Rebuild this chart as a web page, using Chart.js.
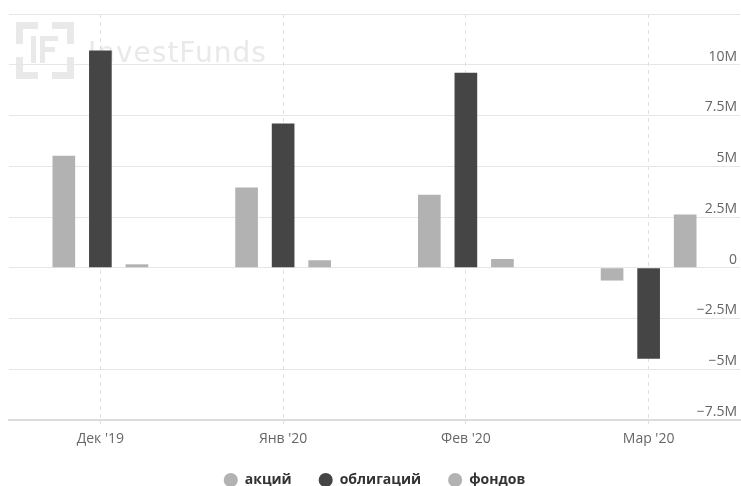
<!DOCTYPE html>
<html lang="ru">
<head>
  <meta charset="UTF-8">
  <title>InvestFunds</title>
  <script src="https://cdn.jsdelivr.net/npm/chart.js"></script>
  <style>
    html, body { margin: 0; padding: 0; background: #fff; }
    #wrap { width: 741px; height: 486px; }
  </style>
</head>
<body>
  <div id="wrap">
    <canvas id="fundsChart" width="741" height="486"></canvas>
  </div>

  <script>
    // данные
    const months = ["Дек '19", "Янв '20", "Фев '20", "Мар '20"];
    const akcii = [5520000, 3950000, 3600000, -630000];
    const obligacii = [10700000, 7100000, 9600000, -4480000];
    const fondov = [170000, 370000, 430000, 2620000];
    const seriesNames = ['акций', 'облигаций', 'фондов'];

    const lightGray = '#b2b2b2';
    const darkGray = '#454545';

    // подпись оси: 10M, 7.5M, 0, −2.5M
    function formatMillions(v) {
      if (v === 0) return '0';
      const m = Math.abs(v) / 1000000;
      return (v < 0 ? '\u2212' : '') + m + 'M';
    }

    // логотип-водяной знак в левом верхнем углу
    const watermark = {
      id: 'watermark',
      beforeDraw(chart) {
        const c = chart.ctx;
        c.save();
        c.fillStyle = '#e9e9e9';
        // уголки рамки
        const x0 = 16, y0 = 22, x1 = 74, y1 = 79, t = 7, arm = 22;
        c.fillRect(x0, y0, arm, t);
        c.fillRect(x0, y0, t, arm);
        c.fillRect(x1 - arm, y0, arm, t);
        c.fillRect(x1 - t, y0, t, arm);
        c.fillRect(x0, y1 - t, arm, t);
        c.fillRect(x0, y1 - arm, t, arm);
        c.fillRect(x1 - arm, y1 - t, arm, t);
        c.fillRect(x1 - t, y1 - arm, t, arm);
        // буквы IF
        c.fillRect(31, 36, 5, 27);
        c.fillRect(40, 36, 5, 27);
        c.fillRect(40, 36, 18, 5);
        c.fillRect(40, 47, 15, 5);
        // название
        c.font = '28px "DejaVu Sans"';
        c.letterSpacing = '1px';
        c.textBaseline = 'alphabetic';
        c.fillText('InvestFunds', 88, 62);
        c.restore();
      }
    };

    const ctx = document.getElementById('fundsChart').getContext('2d');

    new Chart(ctx, {
      type: 'bar',
      data: {
        labels: months,
        datasets: [
          { label: seriesNames[0], data: akcii, backgroundColor: lightGray },
          { label: seriesNames[1], data: obligacii, backgroundColor: darkGray },
          { label: seriesNames[2], data: fondov, backgroundColor: lightGray }
        ]
      },
      options: {
        responsive: false,
        animation: false,
        categoryPercentage: 0.6,
        barPercentage: 0.62,
        layout: { padding: { left: 9, right: 1, top: 14, bottom: -11 } },
        plugins: {
          tooltip: { enabled: false },
          legend: {
            position: 'bottom',
            labels: {
              usePointStyle: true,
              pointStyle: 'circle',
              boxWidth: 14,
              boxHeight: 10,
              padding: 27,
              color: '#333',
              font: { family: '"Open Sans"', size: 14, weight: 'bold' }
            }
          }
        },
        scales: {
          x: {
            afterFit: function (scale) { scale.height = 26; },
            grid: {
              color: '#e0e0e0',
              offset: false,
              drawTicks: true,
              tickLength: 4
            },
            border: { display: true, color: '#dcdcdc', width: 2, dash: [4, 4] },
            ticks: {
              color: '#666',
              padding: 7,
              font: { family: '"Open Sans"', size: 14 }
            }
          },
          y: {
            position: 'right',
            min: -7500000,
            max: 12500000,
            grid: { color: '#e6e6e6', drawTicks: false },
            border: { display: false },
            ticks: {
              stepSize: 2500000,
              mirror: true,
              padding: -3,
              labelOffset: -8,
              color: '#666',
              font: { family: '"Open Sans"', size: 14 },
              callback: function (v) {
                if (v === 12500000) return '';
                return formatMillions(v);
              }
            }
          }
        }
      },
      plugins: [watermark]
    });
  </script>
</body>
</html>
